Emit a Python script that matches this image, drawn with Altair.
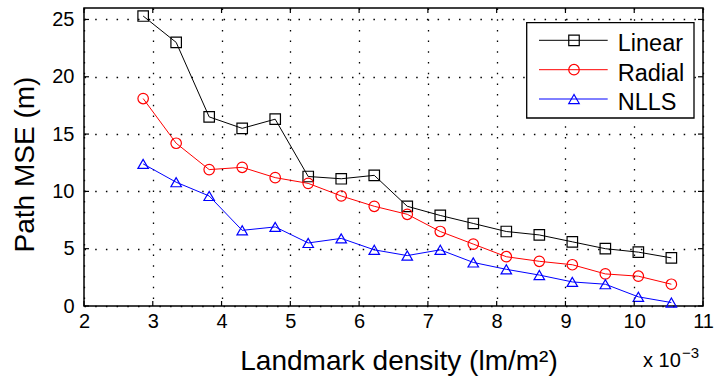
import altair as alt
import pandas as pd

# ---- data ----
density = [2.86, 3.34, 3.82, 4.30, 4.78, 5.26, 5.74, 6.22, 6.70, 7.18, 7.66, 8.14, 8.62, 9.10, 9.58, 10.06, 10.54]
linear = [25.3, 23.0, 16.5, 15.5, 16.3, 11.3, 11.1, 11.4, 8.7, 7.9, 7.2, 6.5, 6.2, 5.6, 5.0, 4.7, 4.2]
radial = [18.1, 14.2, 11.9, 12.1, 11.2, 10.7, 9.6, 8.7, 8.0, 6.5, 5.4, 4.3, 3.9, 3.6, 2.8, 2.6, 1.9]
nlls = [12.4, 10.8, 9.6, 6.6, 6.9, 5.5, 5.9, 4.9, 4.4, 4.9, 3.8, 3.2, 2.7, 2.1, 1.9, 0.8, 0.3]

series_names = ["Linear", "Radial", "NLLS"]
series_colors = ["#000000", "#ff0000", "#0000ff"]
series_shapes = ["square", "circle", "triangle-up"]

x_ticks = [2, 3, 4, 5, 6, 7, 8, 9, 10, 11]
y_ticks = [0, 5, 10, 15, 20, 25]

FONT = "Liberation Sans"
W, H = 619, 298

rows = []
for name, vals in zip(series_names, [linear, radial, nlls]):
    for xv, yv in zip(density, vals):
        rows.append({"x": xv, "y": yv, "series": name})
df = pd.DataFrame(rows)

color_enc = alt.Color("series:N", scale=alt.Scale(domain=series_names, range=series_colors), legend=None)
shape_enc = alt.Shape("series:N", scale=alt.Scale(domain=series_names, range=series_shapes), legend=None)

common = dict(grid=True, gridDash=[1.5, 9.2], gridColor="#000000", gridOpacity=1, gridWidth=1.3,
              domain=False, ticks=False, labelFont=FONT, labelFontSize=20, labelColor="#000000",
              labelFlush=False, labelOverlap=False, titleFont=FONT, titleFontSize=28,
              titleFontWeight="normal", titleColor="#000000", titleBaseline="alphabetic",
              titleAlign="center")

x_enc = alt.X("x:Q", scale=alt.Scale(domain=[2, 11], nice=False, zero=False),
              axis=alt.Axis(values=x_ticks, title="Landmark density (lm/m²)", labelPadding=5,
                            titleX=314.5, titleY=63, **common))
y_enc = alt.Y("y:Q", scale=alt.Scale(domain=[0, 26], nice=False, zero=False),
              axis=alt.Axis(values=y_ticks, title="Path MSE (m)", labelPadding=10,
                            titleX=-51, titleY=156, titleAngle=270, **common))

base = alt.Chart(df).encode(x=x_enc, y=y_enc, color=color_enc)
lines = base.mark_line(strokeWidth=1)
points = base.mark_point(filled=False, size=110, strokeWidth=1.2, opacity=1).encode(shape=shape_enc)

xt = pd.DataFrame({"x": x_ticks})
yt = pd.DataFrame({"y": y_ticks})
tick_bottom = alt.Chart(xt).mark_rule(color="black", strokeWidth=1.2).encode(
    x=x_enc, y=alt.value(H), y2=alt.value(H - 5))
tick_top = alt.Chart(xt).mark_rule(color="black", strokeWidth=1.2).encode(
    x=x_enc, y=alt.value(0), y2=alt.value(5))
tick_left = alt.Chart(yt).mark_rule(color="black", strokeWidth=1.2).encode(
    y=y_enc, x=alt.value(0), x2=alt.value(5))
tick_right = alt.Chart(yt).mark_rule(color="black", strokeWidth=1.2).encode(
    y=y_enc, x=alt.value(W), x2=alt.value(W - 5))

exp_base = alt.Chart(pd.DataFrame({"t": ["x 10"]})).mark_text(
    align="left", baseline="alphabetic", font=FONT, fontSize=20, color="black").encode(
    text="t:N", x=alt.value(559), y=alt.value(359))
exp_sup = alt.Chart(pd.DataFrame({"t": ["−3"]})).mark_text(
    align="left", baseline="alphabetic", font=FONT, fontSize=15, color="black").encode(
    text="t:N", x=alt.value(598), y=alt.value(350))

# ---- legend (drawn by hand, MATLAB style) ----
legend_rows = [32.3, 61.7, 91.0]
box = alt.Chart(pd.DataFrame({"a": [0]})).mark_rect(fill="white", stroke="black", strokeWidth=1.3).encode(
    x=alt.value(442.7), x2=alt.value(610), y=alt.value(14.7), y2=alt.value(110))
legend_layers = [box]
for name, col, shp, ly in zip(series_names, series_colors, series_shapes, legend_rows):
    one = pd.DataFrame({"series": [name]})
    legend_layers.append(alt.Chart(one).mark_rule(strokeWidth=1, color=col).encode(
        x=alt.value(455), x2=alt.value(523.7), y=alt.value(ly)))
    legend_layers.append(alt.Chart(one).mark_point(filled=False, shape=shp, size=110, strokeWidth=1.2,
                                                   color=col, opacity=1).encode(
        x=alt.value(490), y=alt.value(ly)))
    legend_layers.append(alt.Chart(one).mark_text(align="left", baseline="alphabetic", dy=11, font=FONT,
                                                  fontSize=23.5, color="black").encode(
        x=alt.value(533.7), y=alt.value(ly), text="series:N"))

chart = alt.layer(lines, points, tick_bottom, tick_top, tick_left, tick_right, exp_base, exp_sup,
                  *legend_layers).properties(
    width=W, height=H, autosize=alt.AutoSizeParams(type="none"),
    padding={"left": 84, "top": 8, "right": 12, "bottom": 71},
    background="white",
).configure_view(stroke="black", strokeWidth=1.5)

chart.save("out.html", embed_options={"renderer": "svg", "actions": False})
